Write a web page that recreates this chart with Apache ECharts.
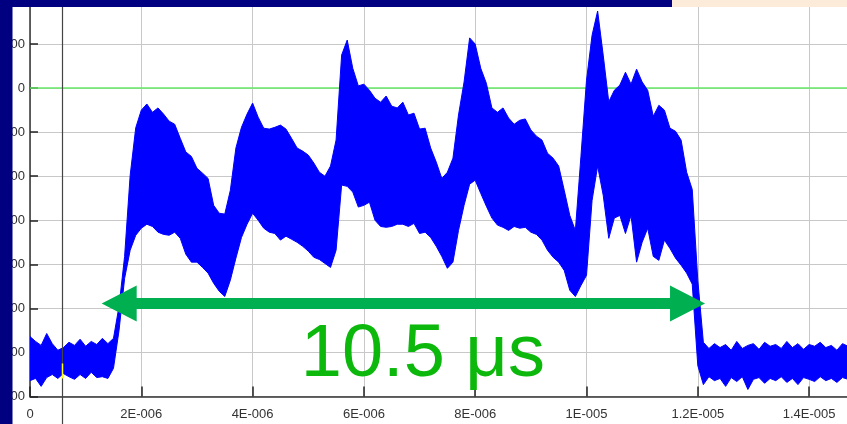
<!DOCTYPE html>
<html><head><meta charset="utf-8">
<script src="https://cdn.jsdelivr.net/npm/echarts@6/dist/echarts.min.js"></script>
<style>html,body{margin:0;padding:0;background:#fff;}#c{width:847px;height:424px;}</style>
</head><body><div id="c"></div>
<script>
// time in microseconds
const timeUs = [
0,0.1,0.2,0.3,0.4,0.5,0.6,0.7,0.8,0.9,
1,1.1,1.2,1.3,1.4,1.5,1.6,1.7,1.8,1.9,
2,2.1,2.2,2.3,2.4,2.5,2.6,2.7,2.8,2.9,
3,3.1,3.2,3.3,3.4,3.5,3.6,3.7,3.8,3.9,
4,4.1,4.2,4.3,4.4,4.5,4.6,4.7,4.8,4.9,
5,5.1,5.2,5.3,5.4,5.5,5.6,5.7,5.8,5.9,
6,6.1,6.2,6.3,6.4,6.5,6.6,6.7,6.8,6.9,
7,7.1,7.2,7.3,7.4,7.5,7.6,7.7,7.8,7.9,
8,8.1,8.2,8.3,8.4,8.5,8.6,8.7,8.8,8.9,
9,9.1,9.2,9.3,9.4,9.5,9.6,9.7,9.8,9.9,
10,10.1,10.2,10.3,10.4,10.5,10.6,10.7,10.8,10.9,
11,11.1,11.2,11.3,11.4,11.5,11.6,11.7,11.8,11.9,
12,12.1,12.2,12.3,12.4,12.5,12.6,12.7,12.8,12.9,
13,13.1,13.2,13.3,13.4,13.5,13.6,13.7,13.8,13.9,
14,14.1,14.2,14.3,14.4,14.5,14.6,14.7
];
// upper envelope of the trace per time bin
const traceMax = [
-564,-575,-584,-557,-580,-595,-589,-577,-584,-570,
-586,-575,-582,-568,-580,-568,-495,-382,-198,-90,
-50,-36,-55,-45,-59,-75,-82,-114,-145,-155,
-182,-193,-205,-266,-284,-286,-232,-136,-89,-59,
-34,-66,-91,-93,-89,-84,-93,-114,-136,-143,
-152,-170,-191,-200,-177,-118,75,109,45,5,
9,-5,-23,-32,-18,-41,-45,-32,-61,-57,
-93,-91,-136,-168,-205,-191,-159,-61,14,114,
100,45,11,-45,-55,-45,-68,-82,-73,-70,
-95,-109,-118,-148,-159,-177,-232,-289,-323,-155,
18,120,175,75,-31,-5,7,36,9,43,
14,-5,-64,-39,-50,-91,-98,-118,-191,-230,
-436,-577,-591,-580,-589,-582,-595,-575,-591,-584,
-580,-593,-577,-586,-582,-591,-575,-589,-580,-593,
-582,-586,-577,-589,-584,-595,-580,-586
];
// lower envelope of the trace per time bin
const traceMin = [
-664,-659,-677,-657,-650,-659,-648,-655,-661,-650,
-659,-645,-657,-655,-659,-636,-550,-432,-368,-334,
-318,-309,-314,-327,-332,-334,-327,-341,-377,-395,
-395,-407,-420,-443,-461,-473,-436,-386,-339,-309,
-284,-300,-318,-327,-330,-345,-336,-343,-350,-359,
-370,-384,-389,-398,-407,-368,-220,-223,-236,-270,
-266,-259,-300,-314,-316,-314,-309,-309,-314,-307,
-330,-327,-339,-359,-382,-409,-395,-323,-266,-218,
-209,-239,-268,-295,-311,-316,-323,-314,-318,-316,
-327,-332,-345,-368,-384,-395,-414,-459,-473,-448,
-425,-255,-177,-243,-341,-295,-289,-330,-289,-395,
-350,-318,-382,-391,-345,-364,-386,-402,-420,-445,
-630,-673,-655,-664,-659,-677,-657,-666,-655,-684,
-661,-657,-670,-659,-664,-655,-668,-659,-673,-657,
-661,-666,-655,-664,-659,-668,-657,-661
];
const xTickLabels = ['0','2E-006','4E-006','6E-006','8E-006','1E-005','1.2E-005','1.4E-005','1.6E-005'];
const zeroLevel = 0;
const cursorTimeUs = 0.575;
const cursorMarkRange = [-625, -659];
const spanTimesUs = [1.288, 12.13];
const spanLevel = -489;
const spanText = '10.5 \u03bcs';
const spanTextPos = [7.06, -607];

const chart = echarts.init(document.getElementById('c'), null, {renderer: 'canvas'});
const envData = timeUs.map((t, i) => [t, traceMax[i], traceMin[i]]);
const zeroData = [[0, zeroLevel], [16, zeroLevel]];

function renderBand(params, api) {
  if (params.dataIndex !== 0) return null;
  const top = envData.map(d => api.coord([d[0], d[1]]));
  const bot = envData.map(d => api.coord([d[0], d[2]])).reverse();
  const cs = params.coordSys;
  return {
    type: 'polygon',
    shape: {points: top.concat(bot)},
    style: {fill: '#0000ff', stroke: '#0000ff', lineWidth: 1},
    clipPath: {type: 'rect', shape: {x: cs.x, y: cs.y, width: cs.width, height: cs.height}}
  };
}

chart.setOption({
  animation: false,
  backgroundColor: '#ffffff',
  grid: {left: 30, right: -73.4, top: 0, bottom: 27.5, containLabel: false, outerBoundsMode: 'none'},
  xAxis: {
    type: 'value', min: 0, max: 16, interval: 2,
    axisLine: {onZero: false, lineStyle: {color: '#333', width: 1.5}},
    axisTick: {inside: true, length: 10, lineStyle: {color: '#222', width: 1.5}},
    axisLabel: {
      margin: 11, color: '#333', fontSize: 13, fontFamily: '"Liberation Sans", Arial, sans-serif',
      showMaxLabel: false, showMinLabel: true,
      formatter: function (v) {
        const i = Math.round(v / 2);
        return (Math.abs(v - i * 2) < 1e-6 && xTickLabels[i] !== undefined) ? xTickLabels[i] : '';
      }
    },
    splitLine: {show: true, lineStyle: {color: '#c8c8c8', width: 1}}
  },
  yAxis: {
    type: 'value', min: -700, max: 200, interval: 100,
    axisLine: {show: true, lineStyle: {color: '#333', width: 1.5}},
    axisTick: {show: true, inside: true, length: 8, lineStyle: {color: '#222', width: 1.5}},
    axisLabel: {margin: 5, color: '#333', fontSize: 13, fontFamily: '"Liberation Sans", Arial, sans-serif', showMaxLabel: false},
    splitLine: {show: true, lineStyle: {color: '#c8c8c8', width: 1}}
  },
  series: [
    {type: 'line', data: zeroData, symbol: 'none', z: 1, silent: true,
     lineStyle: {color: '#66e866', width: 1.5}},
    {type: 'custom', data: envData, z: 2, silent: true, renderItem: renderBand,
     encode: {x: 0, y: [1, 2]}}
  ]
});

const px = (t, v) => chart.convertToPixel({gridIndex: 0}, [t, v]);
const g = [];
const cp = px(cursorTimeUs, 0);
const cx = Math.round(cp[0]) + 0.5;
g.push({type: 'line', shape: {x1: cx, y1: 0, x2: cx, y2: 424}, style: {stroke: '#444', lineWidth: 1.2}, z: 50});
const ya = px(cursorTimeUs, cursorMarkRange[0])[1], yb = px(cursorTimeUs, cursorMarkRange[1])[1];
g.push({type: 'line', shape: {x1: cx, y1: ya, x2: cx, y2: yb}, style: {stroke: '#ffff00', lineWidth: 1.5}, z: 51});

const pL = px(spanTimesUs[0], spanLevel), pR = px(spanTimesUs[1], spanLevel);
const xL = pL[0], xR = pR[0], y = pL[1];
const hl = 35, hw = 18, sw = 5.5;
g.push({type: 'polygon', z: 60, shape: {points: [
  [xL, y], [xL + hl, y - hw], [xL + hl, y - sw], [xR - hl, y - sw], [xR - hl, y - hw],
  [xR, y], [xR - hl, y + hw], [xR - hl, y + sw], [xL + hl, y + sw], [xL + hl, y + hw]
]}, style: {fill: '#00b050'}});
const tp = px(spanTextPos[0], spanTextPos[1]);
g.push({type: 'text', x: tp[0], y: tp[1], z: 61, style: {
  text: spanText, fill: '#0cb80c', font: '74px "Liberation Sans", Arial, sans-serif',
  align: 'center', verticalAlign: 'middle'}});

g.push({type: 'rect', z: 100, shape: {x: 0, y: 0, width: 12.5, height: 424}, style: {fill: '#000080'}});
g.push({type: 'rect', z: 100, shape: {x: 0, y: 0, width: 672, height: 7}, style: {fill: '#000080'}});
g.push({type: 'rect', z: 100, shape: {x: 672, y: 0, width: 175, height: 7}, style: {fill: '#fcebd8'}});
chart.setOption({graphic: g});
</script>
</body></html>
